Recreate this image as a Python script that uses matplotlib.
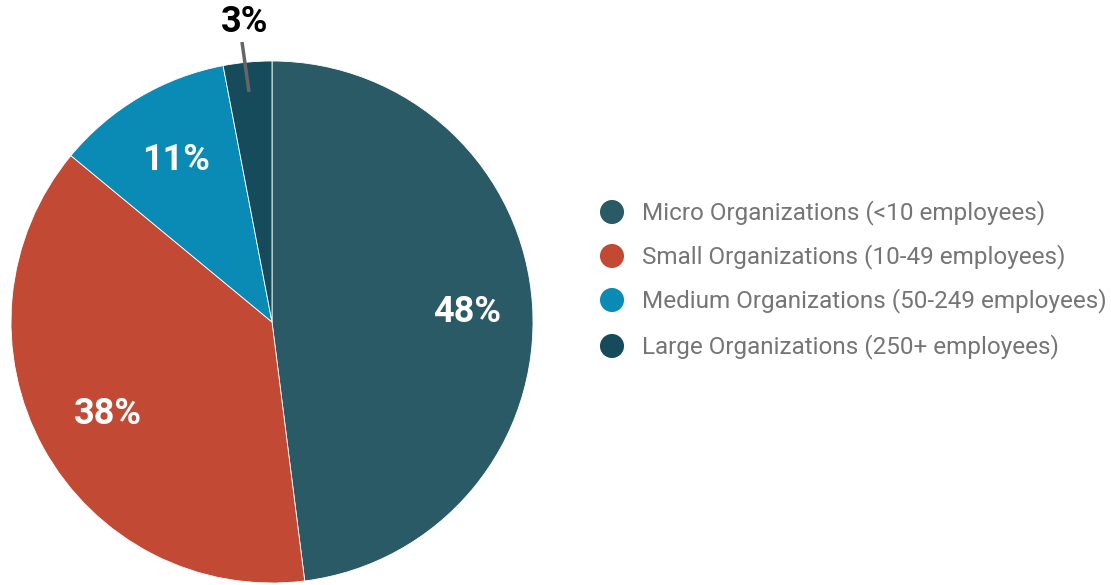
import matplotlib
matplotlib.use("Agg")
import matplotlib.pyplot as plt

# data
categories = ["Micro Organizations (<10 employees)",
              "Small Organizations (10-49 employees)",
              "Medium Organizations (50-249 employees)",
              "Large Organizations (250+ employees)"]
shares = [48, 38, 11, 3]
colors = ["#2A5A66", "#C24A35", "#0A8BB6", "#164B5C"]

plt.rcParams['font.family'] = ['Roboto', 'DejaVu Sans']

fig = plt.figure(figsize=(11.11, 5.85), dpi=100)
ax = fig.add_axes([0, 0, 1, 1])

cx, cy, r = 272, 322, 261
# y axis is inverted, so counterclock=True here draws clockwise on screen
wedges, _ = ax.pie(shares, colors=colors, startangle=-90, counterclock=True,
                   center=(cx, cy), radius=r, frame=True,
                   wedgeprops=dict(edgecolor='white', linewidth=0.6))
ax.set_xlim(0, 1111)
ax.set_ylim(585, 0)
ax.set_aspect('equal')
ax.axis('off')

# inner labels
lbl = dict(color='white', fontsize=26, fontweight='bold', ha='center', va='center')
ax.text(467, 312, "48%", **lbl)
ax.text(108, 414, "38%", **lbl)
ax.text(176, 160, "11%", **lbl)
# outside label for small slice
ax.plot([242, 249], [42, 92], color='#666666', linewidth=2.5, solid_capstyle='butt')
ax.text(245, 22, "3%", color='black', fontsize=26, fontweight='bold', ha='center', va='center')

# legend
leg_y = [212, 256, 300, 346]
for name, col, y in zip(categories, colors, leg_y):
    ax.scatter([612], [y], s=300, color=col, edgecolors='none')
    ax.text(642, y + 1, name, color='#757575', fontsize=17.5, ha='left', va='center')

fig.savefig("out.png", dpi=100)
